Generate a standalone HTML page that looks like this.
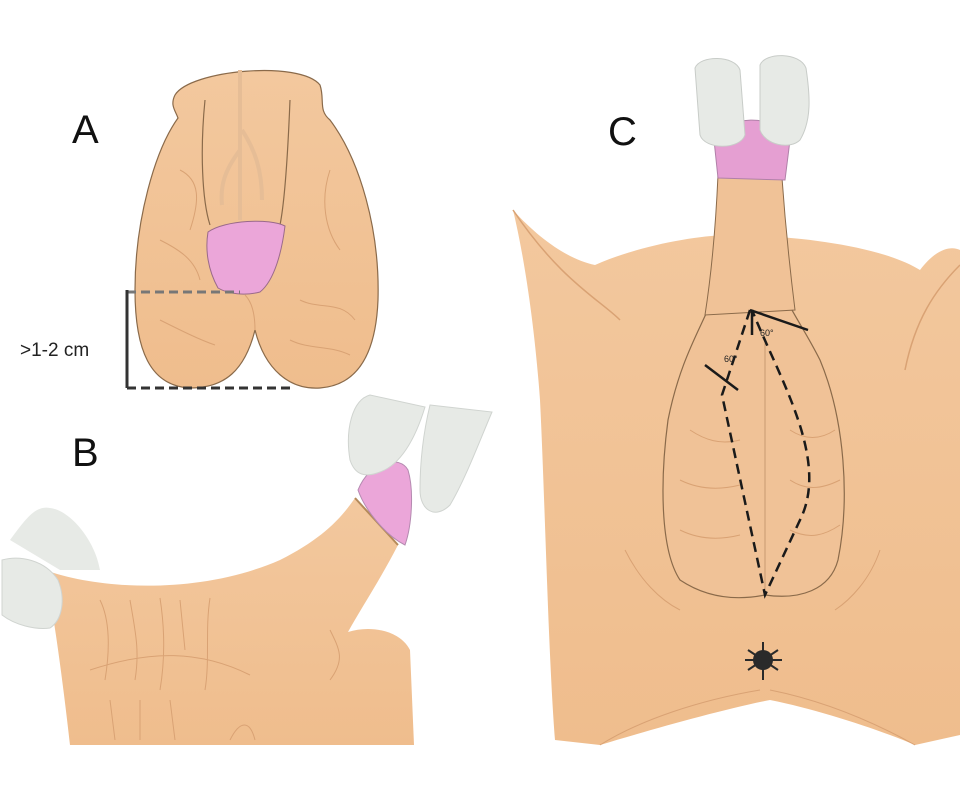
<!DOCTYPE html>
<html><head><style>
html,body{margin:0;padding:0;background:#fff;width:960px;height:800px;overflow:hidden}
svg{display:block}
text{font-family:"Liberation Sans",sans-serif}
</style></head><body>
<svg width="960" height="800" viewBox="0 0 960 800" xmlns="http://www.w3.org/2000/svg">
<defs>
<linearGradient id="sk" x1="0" y1="0" x2="0" y2="1"><stop offset="0" stop-color="#f3c89e"/><stop offset="1" stop-color="#efbd8d"/></linearGradient>
</defs>
<!-- Panel A -->
<path d="M175,95 C190,70 300,60 320,85 C325,100 318,110 330,120 C360,160 380,230 378,300 C376,350 360,385 320,388 C290,390 265,370 255,330 C245,370 225,388 190,388 C150,386 135,350 135,290 C135,220 155,150 178,118 C175,110 170,105 175,95 Z" fill="url(#sk)" stroke="#8a6a4a" stroke-width="1.2"/>
<path d="M205,100 C200,150 202,200 210,225 M290,100 C288,150 285,200 280,225" stroke="#8a6a4a" stroke-width="1.2" fill="none"/>
<path d="M240,70 L240,220 M240,150 C225,170 220,185 222,205 M242,130 C255,150 262,170 262,200" stroke="#e6bd96" stroke-width="4" fill="none"/>
<path d="M180,170 C200,180 200,200 190,230 M160,240 C180,250 195,260 200,280 M330,170 C320,200 325,230 340,250 M300,300 C320,310 340,300 355,320 M160,320 C180,330 200,340 215,345 M290,340 C310,350 330,345 350,355 M255,330 C255,310 250,300 245,295" stroke="#d9a274" stroke-width="1" fill="none"/>
<path d="M208,232 C225,220 270,218 285,226 C282,250 275,280 260,292 C245,296 228,294 218,288 C208,270 205,250 208,232 Z" fill="#eba6d9" stroke="#9a6a8a" stroke-width="1"/>
<path d="M127,292 L240,292" stroke="#777" stroke-width="3" stroke-dasharray="9,5"/>
<path d="M127,290 L127,388" stroke="#333" stroke-width="3"/>
<path d="M127,388 L290,388" stroke="#333" stroke-width="3" stroke-dasharray="9,5"/>
<text x="20" y="356" font-size="19" fill="#222">&gt;1-2 cm</text>
<text x="72" y="143" font-size="40" fill="#111">A</text>
<text x="72" y="466" font-size="40" fill="#111">B</text>
<text x="608" y="145" font-size="40" fill="#111">C</text>
<!-- Panel B -->
<path d="M45,570 C100,590 200,595 280,560 C320,540 340,520 355,498 L398,545 C380,580 360,610 348,632 C370,625 400,630 410,650 L414,745 L70,745 C65,700 55,620 45,570 Z" fill="url(#sk)"/>
<path d="M100,600 C110,620 110,650 105,680 M130,600 C135,630 140,650 135,680 M160,598 C165,630 165,660 160,690 M180,600 L185,650 M210,598 C205,630 210,660 205,690 M90,670 C150,650 200,650 250,675 M110,700 L115,740 M140,700 L140,740 M170,700 L175,740 M330,630 C340,650 345,660 330,680 M230,740 C240,720 250,720 255,740" stroke="#d9a274" stroke-width="1" fill="none"/>
<path d="M355,498 L398,545" stroke="#b48a5a" stroke-width="2"/>
<path d="M358,490 C370,460 400,455 408,470 C414,490 412,525 405,545 C385,535 365,510 358,490 Z" fill="#eba6d9" stroke="#b48ab0" stroke-width="1"/>
<path d="M350,460 C345,430 352,400 370,395 L425,407 C415,440 400,465 380,472 C365,478 355,475 350,460 Z" fill="#e7eae6" stroke="#d0d4d0" stroke-width="1"/>
<path d="M430,405 L492,412 C480,440 465,480 450,505 C435,520 420,510 420,490 C420,460 424,430 430,405 Z" fill="#e7eae6" stroke="#d0d4d0" stroke-width="1"/>
<path d="M10,540 C25,520 35,505 50,508 C70,510 95,540 100,570 L60,570 Z" fill="#e7eae6"/>
<path d="M2,560 C20,555 45,560 58,580 C66,600 62,620 50,628 C35,630 15,625 2,615 Z" fill="#e7eae6" stroke="#d0d4d0" stroke-width="1"/>
<!-- Panel C -->
<path d="M513,210 C540,240 570,260 595,265 C640,245 700,235 730,235 C790,235 880,245 920,270 C935,250 950,245 960,250 L960,735 L915,745 C880,730 820,710 770,700 C720,710 650,730 600,745 L555,740 C548,650 545,500 540,400 C535,330 525,260 513,210 Z" fill="url(#sk)"/>
<path d="M513,210 C560,280 600,300 620,320 M960,265 C935,290 915,320 905,370" stroke="#d9a274" stroke-width="1.5" fill="none"/>
<path d="M625,550 C640,580 660,600 680,610 M880,550 C870,580 850,600 835,610 M600,745 C640,720 700,700 760,690 M915,745 C870,720 820,700 770,690" stroke="#d9a274" stroke-width="1" fill="none"/>
<path d="M712,300 C700,330 680,360 668,420 C660,480 660,550 680,580 C710,600 740,600 765,595 C800,600 830,590 838,560 C850,500 845,420 820,360 C805,330 790,310 785,295 Z" fill="#f0c297" stroke="#8a6a4a" stroke-width="1.2"/>
<path d="M765,340 L765,595" stroke="#c89a70" stroke-width="1"/>
<path d="M690,430 C705,440 720,445 740,440 M680,480 C700,490 720,490 740,485 M680,530 C700,540 720,540 740,535 M790,430 C805,440 820,440 835,430 M790,480 C805,490 820,490 840,480 M790,530 C810,540 825,535 840,525" stroke="#d9a274" stroke-width="1" fill="none"/>
<path d="M718,175 L782,178 C785,220 790,270 795,310 L705,315 C712,270 716,220 718,175 Z" fill="#f0c297" stroke="#8a6a4a" stroke-width="1"/>
<path d="M714,140 C725,115 775,112 790,140 L785,180 L718,178 Z" fill="#e59fd2" stroke="#b080a8" stroke-width="1"/>
<path d="M695,68 C700,55 735,55 740,70 L745,135 C740,150 705,150 700,135 Z" fill="#e7eae6" stroke="#c8ccc8" stroke-width="1"/>
<path d="M760,65 C765,52 800,52 806,68 C810,95 812,120 800,140 C790,150 765,145 760,130 Z" fill="#e7eae6" stroke="#c8ccc8" stroke-width="1"/>
<g stroke="#1a1a1a" stroke-width="2.5" fill="none">
<path d="M750,310 L722,395 L765,595 L800,520 C830,460 780,380 752,310" stroke-dasharray="10,6"/>
<path d="M750,310 L808,330 M752,310 L752,335"/>
<path d="M705,365 L738,390"/>
</g>
<text x="760" y="336" font-size="9" fill="#222">60°</text>
<text x="724" y="362" font-size="9" fill="#222">60°</text>
<circle cx="763" cy="660" r="10" fill="#2a2a2a"/>
<path d="M748,650 L778,670 M778,650 L748,670 M763,642 L763,680 M745,660 L782,660" stroke="#2a2a2a" stroke-width="2"/>
</svg>
</body></html>
